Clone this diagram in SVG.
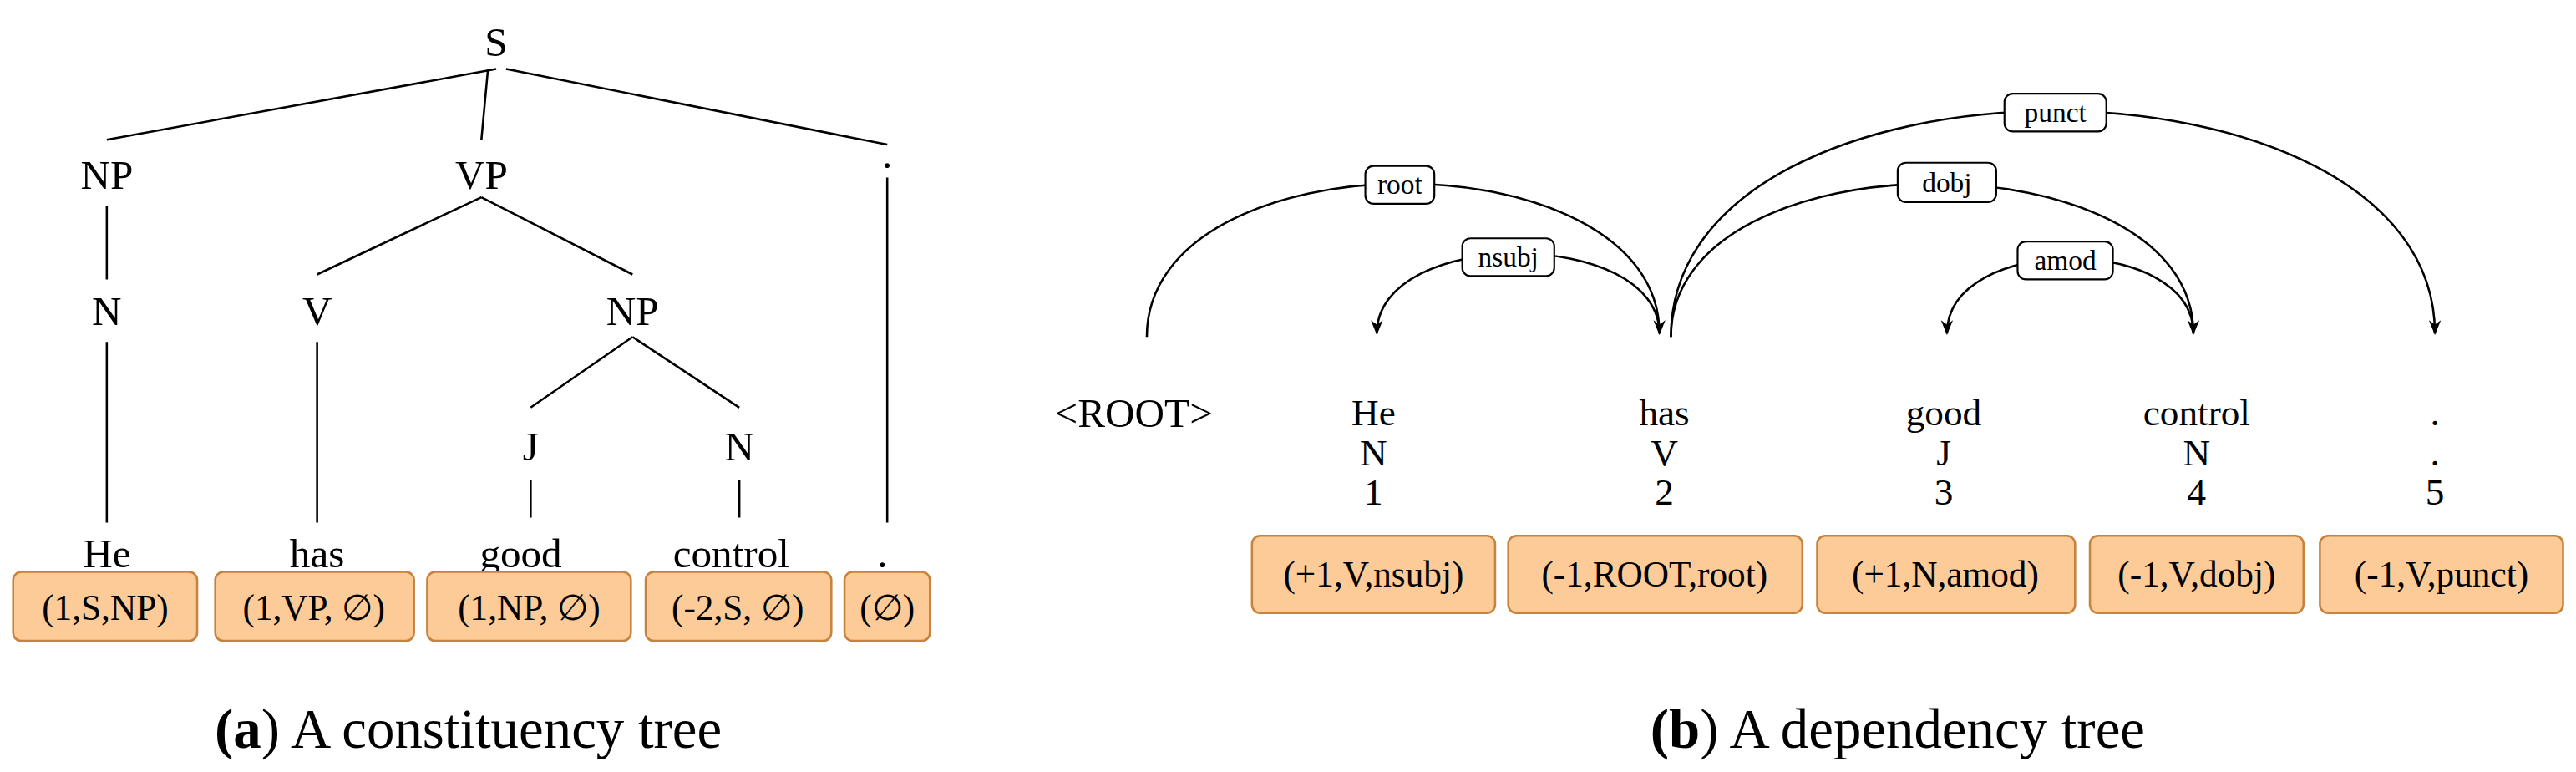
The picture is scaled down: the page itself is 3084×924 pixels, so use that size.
<svg xmlns="http://www.w3.org/2000/svg" width="3084" height="924" viewBox="0 0 3084 924">
<style>
text{font-family:"Liberation Serif",serif;fill:#000;text-anchor:middle}
.t{font-size:25px}
.w{font-size:23px}
.b{font-size:22px}
.l{font-size:17px}
.c{font-size:34px}
.e{stroke:#000;stroke-width:1.3;fill:none}
.box{fill:#fdcb98;stroke:#c5833f;stroke-width:1.3}
.lb{fill:#fff;stroke:#000;stroke-width:1.1}
</style>
<defs><marker id="a" viewBox="0 0 10 10" refX="9" refY="5" markerWidth="7" markerHeight="7" orient="auto"><path d="M0,1 L10,5 L0,9 L3,5 z" fill="#000"/></marker></defs>
<rect width="3084" height="924" fill="#fff"/>
<g transform="scale(1.967)">
<g id="connectors">
<path class="e" d="M302,42 L65,85 M297,42 L293,85 M308,42 L540,88 M65,125 L65,170 M65,208 L65,318 M293,120 L193,167 M293,120 L385,167 M193,208 L193,318 M385,205 L323,248 M385,205 L450,248 M323,292 L323,315 M450,292 L450,315 M540,108 L540,318"/>
<path class="e" marker-end="url(#a)" d="M698,205 C698,81 1010,81 1010,203"/>
<path class="e" marker-end="url(#a)" d="M1010,203 C1010,138 838,138 838,203"/>
<path class="e" marker-end="url(#a)" d="M1017,205 C1017,81 1335,81 1335,203"/>
<path class="e" marker-end="url(#a)" d="M1335,203 C1335,142 1185,142 1185,203"/>
<path class="e" marker-end="url(#a)" d="M1017,205 C1017,22 1482,22 1482,203"/>
</g>
<g id="edge-labels">
<rect class="lb" x="831" y="101" width="42" height="23" rx="5"/><text class="l" x="852" y="118">root</text>
<rect class="lb" x="890" y="145" width="56" height="23" rx="5"/><text class="l" x="918" y="162">nsubj</text>
<rect class="lb" x="1155" y="99" width="60" height="24" rx="5"/><text class="l" x="1185" y="117">dobj</text>
<rect class="lb" x="1228" y="147" width="58" height="23" rx="5"/><text class="l" x="1257" y="164">amod</text>
<rect class="lb" x="1220" y="57" width="62" height="23" rx="5"/><text class="l" x="1251" y="74">punct</text>
</g>
<g id="constituency">
<text class="t" x="302" y="34">S</text>
<text class="t" x="65" y="115">NP</text>
<text class="t" x="293" y="115">VP</text>
<text class="t" x="540" y="102">.</text>
<text class="t" x="65" y="198">N</text>
<text class="t" x="193" y="198">V</text>
<text class="t" x="385" y="198">NP</text>
<text class="t" x="323" y="280">J</text>
<text class="t" x="450" y="280">N</text>
<text class="t" x="65" y="345">He</text>
<text class="t" x="193" y="345">has</text>
<text class="t" x="317" y="345">good</text>
<text class="t" x="445" y="345">control</text>
<text class="t" x="537" y="345">.</text>
<rect class="box" x="8" y="348" width="112" height="42" rx="5"/><text class="b" x="64" y="377">(1,S,NP)</text>
<rect class="box" x="131" y="348" width="121" height="42" rx="5"/><text class="b" x="191" y="377">(1,VP, ∅)</text>
<rect class="box" x="260" y="348" width="124" height="42" rx="5"/><text class="b" x="322" y="377">(1,NP, ∅)</text>
<rect class="box" x="393" y="348" width="113" height="42" rx="5"/><text class="b" x="449" y="377">(-2,S, ∅)</text>
<rect class="box" x="514" y="348" width="52" height="42" rx="5"/><text class="b" x="540" y="377">(∅)</text>
<text class="c" x="285" y="455"><tspan font-weight="bold">(a</tspan><tspan>)</tspan> A constituency tree</text>
</g>
<g id="dependency">
<text class="t" x="690" y="260">&lt;ROOT&gt;</text>
<text class="w" x="836" y="259">He</text><text class="w" x="836" y="283">N</text><text class="w" x="836" y="307">1</text>
<text class="w" x="1013" y="259">has</text><text class="w" x="1013" y="283">V</text><text class="w" x="1013" y="307">2</text>
<text class="w" x="1183" y="259">good</text><text class="w" x="1183" y="283">J</text><text class="w" x="1183" y="307">3</text>
<text class="w" x="1337" y="259">control</text><text class="w" x="1337" y="283">N</text><text class="w" x="1337" y="307">4</text>
<text class="w" x="1482" y="259">.</text><text class="w" x="1482" y="283">.</text><text class="w" x="1482" y="307">5</text>
<rect class="box" x="762" y="326" width="148" height="47" rx="5"/><text class="b" x="836" y="357">(+1,V,nsubj)</text>
<rect class="box" x="918" y="326" width="179" height="47" rx="5"/><text class="b" x="1007" y="357">(-1,ROOT,root)</text>
<rect class="box" x="1106" y="326" width="157" height="47" rx="5"/><text class="b" x="1184" y="357">(+1,N,amod)</text>
<rect class="box" x="1272" y="326" width="130" height="47" rx="5"/><text class="b" x="1337" y="357">(-1,V,dobj)</text>
<rect class="box" x="1412" y="326" width="148" height="47" rx="5"/><text class="b" x="1486" y="357">(-1,V,punct)</text>
<text class="c" x="1155" y="455"><tspan font-weight="bold">(b</tspan><tspan>)</tspan> A dependency tree</text>
</g>
</g>
</svg>
